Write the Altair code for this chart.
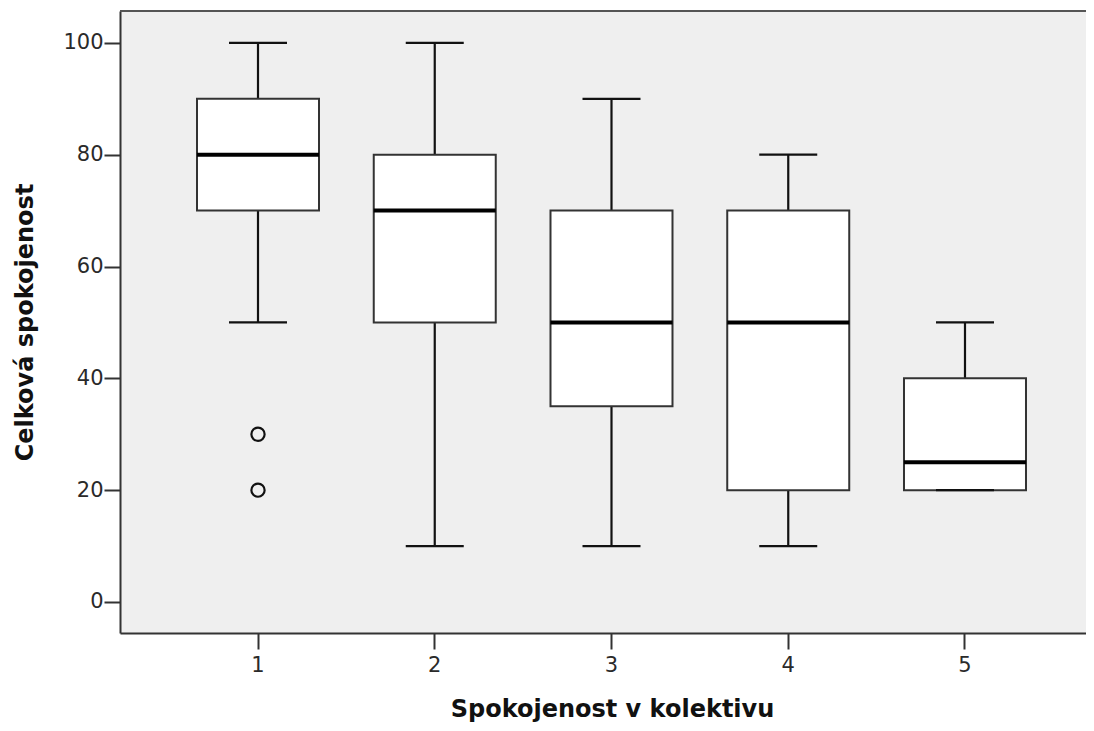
import altair as alt
import pandas as pd

# ---- data ----
categories = ["1", "2", "3", "4", "5"]
whisker_low = [50, 10, 10, 10, 20]
q1 = [70, 50, 35, 20, 20]
median = [80, 70, 50, 50, 25]
q3 = [90, 80, 70, 70, 40]
whisker_high = [100, 100, 90, 80, 50]
outlier_cat = ["1", "1"]
outlier_val = [30, 20]
y_ticks = [0, 20, 40, 60, 80, 100]

Y_MIN, Y_MAX = -5.55, 105.7

boxes = pd.DataFrame({
    "cat": categories, "lo": whisker_low, "q1": q1,
    "med": median, "q3": q3, "hi": whisker_high,
})
outliers = pd.DataFrame({"cat": outlier_cat, "val": outlier_val})

FONT = "DejaVu Sans"

xscale = alt.Scale(domain=categories, paddingInner=0.31, paddingOuter=0.3877, align=0.562)
yscale = alt.Scale(domain=[Y_MIN, Y_MAX], nice=False, zero=False)

x_axis = alt.Axis(
    title="Spokojenost v kolektivu", labelAngle=0, labelPadding=5,
    titleX=492, titleY=83, titleBaseline="alphabetic", titleAlign="center",
    titleAnchor="start",
)
y_axis = alt.Axis(
    title="Celková spokojenost", values=y_ticks, labelPadding=1,
    titleAngle=270, titleX=-88, titleY=311, titleBaseline="alphabetic",
    titleAlign="center", titleAnchor="start",
)

X = alt.X("cat:O", scale=xscale, axis=x_axis, sort=categories)


def Y(field):
    return alt.Y(f"{field}:Q", scale=yscale, axis=y_axis)


base = alt.Chart(boxes)

whisk_lo = base.mark_rule(color="#111", strokeWidth=2.2).encode(x=X, y=Y("lo"), y2="q1:Q")
whisk_hi = base.mark_rule(color="#111", strokeWidth=2.2).encode(x=X, y=Y("q3"), y2="hi:Q")
box = base.mark_bar(size=122, fill="white", stroke="#333", strokeWidth=2).encode(
    x=X, y=Y("q1"), y2="q3:Q"
)
med = base.mark_tick(size=122, thickness=4, color="black", opacity=1).encode(x=X, y=Y("med"))
cap_lo = base.mark_tick(size=58, thickness=2.2, color="#111", opacity=1).encode(x=X, y=Y("lo"))
cap_hi = base.mark_tick(size=58, thickness=2.2, color="#111", opacity=1).encode(x=X, y=Y("hi"))
outl = alt.Chart(outliers).mark_point(
    shape="circle", size=175, filled=False, stroke="#111", strokeWidth=2.2, opacity=1
).encode(x=X, y=Y("val"))
top_line = alt.Chart(boxes).mark_rule(color="#555", strokeWidth=2).encode(
    y=alt.datum(Y_MAX, scale=yscale, axis=y_axis)
)

chart = (
    alt.layer(whisk_lo, whisk_hi, box, med, cap_lo, cap_hi, outl, top_line)
    .properties(
        width=966, height=622,
        autosize=alt.AutoSizeParams(type="none"),
        padding={"left": 112, "top": 3, "right": 0, "bottom": 90},
        background="white",
    )
    .configure_view(fill="#efefef", stroke=None)
    .configure_axis(
        grid=False,
        domainColor="#333", domainWidth=2,
        tickColor="#333", tickWidth=2, tickSize=16,
        labelFont=FONT, labelFontSize=21, labelColor="#2a2a2a",
        titleFont=FONT, titleFontSize=24, titleFontWeight="bold", titleColor="#111",
    )
)

chart.save("out.html", embed_options={"renderer": "svg", "actions": False})
